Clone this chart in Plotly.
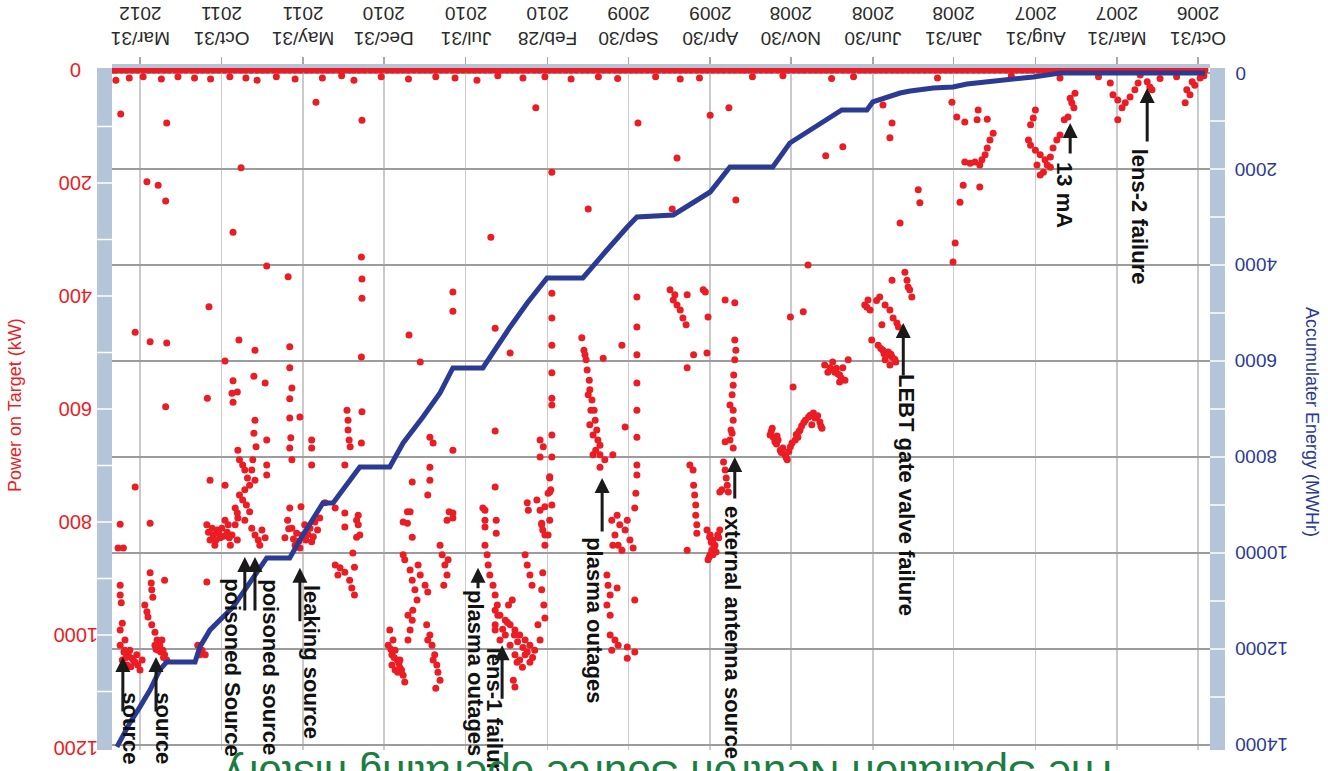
import plotly.graph_objects as go

FONT = "Liberation Sans, Arial, sans-serif"

# ---------------- axis ticks ----------------
tick_dates = ["2006-10-31", "2007-03-31", "2007-08-31", "2008-01-31", "2008-06-30",
              "2008-11-30", "2009-04-30", "2009-09-30", "2010-02-28", "2010-07-31",
              "2010-12-31", "2011-05-31", "2011-10-31", "2012-03-31"]
tick_text = ["Oct/31<br>2006", "Mar/31<br>2007", "Aug/31<br>2007", "Jan/31<br>2008",
             "Jun/30<br>2008", "Nov/30<br>2008", "Apr/30<br>2009", "Sep/30<br>2009",
             "Feb/28<br>2010", "Jul/31<br>2010", "Dec/31<br>2010", "May/31<br>2011",
             "Oct/31<br>2011", "Mar/31<br>2012"]
power_ticks = [0, 200, 400, 600, 800, 1000, 1200]
power_tick_text = ["0", "200", "400", "600", "800", "1000", "1200"]
energy_ticks = [0, 2000, 4000, 6000, 8000, 10000, 12000, 14000]
energy_tick_text = ["0", "2000", "4000", "6000", "8000", "10000", "12000", "14000"]

# ---------------- accumulated energy (MWHr) ----------------
energy_dates = ["2006-10-18", "2007-07-16", "2007-09-04", "2007-11-05", "2008-01-06", "2008-02-01",
                "2008-03-09", "2008-04-21", "2008-05-10", "2008-06-30", "2008-07-11", "2008-08-27",
                "2008-10-01", "2008-12-02", "2009-01-03", "2009-03-24", "2009-04-30", "2009-07-08",
                "2009-09-14", "2009-10-02", "2009-11-09", "2009-12-24", "2010-03-01", "2010-04-07",
                "2010-05-09", "2010-06-10", "2010-06-29", "2010-08-24", "2010-09-17", "2010-10-19",
                "2010-11-25", "2010-12-20", "2011-02-14", "2011-03-18", "2011-04-05", "2011-04-24",
                "2011-05-18", "2011-06-06", "2011-06-25", "2011-08-07", "2011-09-13", "2011-10-09",
                "2011-11-21", "2011-12-10", "2011-12-19", "2012-02-10", "2012-02-23", "2012-03-12",
                "2012-03-31", "2012-04-19", "2012-05-13"]
energy_mwh = [0, 0, 83, 146, 229, 292, 312, 375, 417, 604, 771, 771, 1021, 1458, 1958, 1958,
              2479, 2958, 3000, 3208, 3687, 4270, 4270, 4791, 5291, 5832, 6145, 6145, 6666, 7166,
              7707, 8207, 8207, 8686, 8957, 8957, 9374, 9728, 10103, 10103, 10707, 11123, 11602,
              11956, 12269, 12269, 12435, 12852, 13206, 13540, 14040]

# ---------------- power on target (kW) ----------------
zero_power_dates = [
    "2006-10-18", "2006-10-25", "2006-11-05", "2006-11-15", "2006-11-25", "2006-12-05", "2006-12-15", "2006-12-25",
    "2007-01-05", "2007-01-15", "2007-01-25", "2007-02-05", "2007-02-15", "2007-02-25", "2007-03-05", "2007-03-15",
    "2007-03-25", "2007-04-05", "2007-04-15", "2007-04-25", "2007-05-05", "2007-05-15", "2007-05-25", "2007-06-05",
    "2007-06-15", "2007-06-25", "2007-07-05", "2007-07-15", "2007-07-25", "2007-08-05", "2007-08-15", "2007-08-25",
    "2007-09-05", "2007-09-15", "2007-09-25", "2007-10-05", "2007-10-15", "2007-10-25", "2007-11-05", "2007-11-15",
    "2007-11-25", "2007-12-05", "2007-12-15", "2007-12-25",
    "2008-01-05", "2008-01-15", "2008-01-25", "2008-02-05", "2008-02-15", "2008-02-25", "2008-03-05", "2008-03-15",
    "2008-03-25", "2008-04-05", "2008-04-15", "2008-04-25", "2008-05-05", "2008-05-15", "2008-05-25", "2008-06-05",
    "2008-06-15", "2008-06-25", "2008-07-05", "2008-07-15", "2008-07-25", "2008-08-05", "2008-08-15", "2008-08-25",
    "2008-09-05", "2008-09-15", "2008-09-25", "2008-10-05", "2008-10-15", "2008-10-25", "2008-11-05", "2008-11-15",
    "2008-11-25", "2008-12-05", "2008-12-15", "2008-12-25",
    "2009-01-05", "2009-01-15", "2009-01-25", "2009-02-05", "2009-02-15", "2009-02-25", "2009-03-05", "2009-03-15",
    "2009-03-25", "2009-04-05", "2009-04-15", "2009-04-25", "2009-05-05", "2009-05-15", "2009-05-25", "2009-06-05",
    "2009-06-15", "2009-06-25", "2009-07-05", "2009-07-15", "2009-07-25", "2009-08-05", "2009-08-15", "2009-08-25",
    "2009-09-05", "2009-09-15", "2009-09-25", "2009-10-05", "2009-10-15", "2009-10-25", "2009-11-05", "2009-11-15",
    "2009-11-25", "2009-12-05", "2009-12-15", "2009-12-25",
    "2010-01-05", "2010-01-15", "2010-01-25", "2010-02-05", "2010-02-15", "2010-02-25", "2010-03-05", "2010-03-15",
    "2010-03-25", "2010-04-05", "2010-04-15", "2010-04-25", "2010-05-05", "2010-05-15", "2010-05-25", "2010-06-05",
    "2010-06-15", "2010-06-25", "2010-07-05", "2010-07-15", "2010-07-25", "2010-08-05", "2010-08-15", "2010-08-25",
    "2010-09-05", "2010-09-15", "2010-09-25", "2010-10-05", "2010-10-15", "2010-10-25", "2010-11-05", "2010-11-15",
    "2010-11-25", "2010-12-05", "2010-12-15", "2010-12-25",
    "2011-01-05", "2011-01-15", "2011-01-25", "2011-02-05", "2011-02-15", "2011-02-25", "2011-03-05", "2011-03-15",
    "2011-03-25", "2011-04-05", "2011-04-15", "2011-04-25", "2011-05-05", "2011-05-15", "2011-05-25", "2011-06-05",
    "2011-06-15", "2011-06-25", "2011-07-05", "2011-07-15", "2011-07-25", "2011-08-05", "2011-08-15", "2011-08-25",
    "2011-09-05", "2011-09-15", "2011-09-25", "2011-10-05", "2011-10-15", "2011-10-25", "2011-11-05", "2011-11-15",
    "2011-11-25", "2011-12-05", "2011-12-15", "2011-12-25",
    "2012-01-05", "2012-01-15", "2012-01-25", "2012-02-05", "2012-02-15", "2012-02-25", "2012-03-05", "2012-03-15",
    "2012-03-25", "2012-04-05", "2012-04-15", "2012-04-25", "2012-05-05", "2012-05-15", "2012-05-20"]

power_low = [("2006-10-20", 10), ("2006-12-10", 12), ("2007-01-10", 15), ("2007-05-05", 12), ("2007-10-15", 10),
             ("2008-03-01", 14), ("2008-08-05", 12), ("2008-09-15", 15), ("2008-12-15", 10), ("2009-02-10", 12),
             ("2009-05-20", 14), ("2009-06-25", 16), ("2009-08-10", 12), ("2009-10-20", 15), ("2009-11-25", 12),
             ("2010-01-15", 16), ("2010-03-05", 12), ("2010-04-15", 14), ("2010-06-01", 10), ("2010-07-10", 18),
             ("2010-08-20", 14), ("2010-09-25", 12), ("2010-11-15", 16), ("2011-01-05", 12), ("2011-02-25", 18),
             ("2011-03-20", 10), ("2011-04-25", 14), ("2011-06-15", 16), ("2011-07-20", 12), ("2011-08-25", 18),
             ("2011-09-15", 14), ("2011-10-15", 12), ("2011-11-20", 16), ("2011-12-20", 14), ("2012-01-20", 12),
             ("2012-02-20", 16), ("2012-03-25", 12), ("2012-04-20", 14), ("2012-05-15", 18)]

power_2006_2007 = [
    ("2006-10-27", 14), ("2006-11-06", 27), ("2006-11-11", 21), ("2006-11-15", 44), ("2006-11-21", 35), ("2006-11-24", 58),
    ("2007-01-25", 35), ("2007-01-29", 30), ("2007-02-03", 21), ("2007-02-16", 9), ("2007-02-20", 23), ("2007-02-26", 35),
    ("2007-03-07", 48), ("2007-03-16", 58), ("2007-03-30", 53), ("2007-04-08", 44), ("2007-04-13", 23), ("2007-03-30", 88),
    ("2007-03-22", 67), ("2007-06-18", 41), ("2007-06-24", 58), ("2007-06-20", 67), ("2007-07-01", 83), ("2007-07-08", 88),
    ("2007-06-27", 50), ("2007-07-16", 14), ("2007-07-22", 124), ("2007-07-29", 138), ("2007-08-03", 154), ("2007-08-13", 159),
    ("2007-08-22", 150), ("2007-08-31", 142), ("2007-09-09", 133), ("2007-09-13", 124), ("2007-09-09", 97), ("2007-09-04", 85),
    ("2007-08-31", 71), ("2007-08-03", 172), ("2007-08-16", 181), ("2007-08-22", 186), ("2007-08-09", 168), ("2007-07-16", 115),
    ("2007-08-28", 168)]

power_2008 = [
    ("2008-02-03", 57), ("2008-01-25", 83), ("2008-01-10", 92), ("2007-12-18", 88), ("2007-12-16", 71), ("2007-11-29", 87),
    ("2007-11-18", 112), ("2007-11-24", 124), ("2007-11-29", 138), ("2007-12-03", 150), ("2007-12-09", 159), ("2007-12-22", 163),
    ("2007-12-31", 165), ("2008-01-10", 163), ("2007-12-13", 168), ("2008-01-13", 204), ("2007-12-13", 207), ("2008-01-19", 234),
    ("2008-01-28", 306), ("2008-02-01", 340), ("2008-04-06", 212), ("2008-04-03", 235), ("2008-05-10", 271),
    ("2008-05-01", 358), ("2008-04-27", 372), ("2008-04-22", 389), ("2008-04-18", 402), ("2008-04-25", 384), ("2008-07-15", 416),
    ("2008-07-09", 407), ("2008-07-05", 425), ("2008-06-17", 402), ("2008-06-07", 416), ("2008-05-29", 425), ("2008-05-23", 439),
    ("2008-05-16", 448), ("2008-06-13", 451), ("2008-07-02", 478), ("2008-06-20", 487), ("2008-06-11", 496), ("2008-06-01", 499),
    ("2008-05-25", 508), ("2008-05-18", 517), ("2008-06-07", 513), ("2008-05-29", 522), ("2008-05-25", 372), ("2008-05-29", 120),
    ("2008-05-25", 94), ("2008-06-11", 62), ("2008-08-25", 136), ("2008-09-26", 152), ("2008-10-29", 345),
    ("2008-05-27", 503), ("2008-06-04", 505), ("2008-06-15", 493), ("2008-05-20", 512), ("2008-06-09", 502), ("2008-07-11", 420),
    ("2008-06-23", 408), ("2008-05-13", 455),
    ("2008-09-28", 522), ("2008-09-18", 527), ("2008-09-09", 535), ("2008-08-31", 540), ("2008-08-25", 527), ("2008-08-21", 549),
    ("2008-08-31", 552), ("2008-09-22", 535), ("2008-08-15", 513), ("2008-09-13", 517), ("2008-11-26", 561),
    ("2008-09-03", 538), ("2008-09-15", 530), ("2008-08-28", 545), ("2008-09-06", 528),
    ("2009-01-08", 646), ("2008-12-30", 658), ("2008-12-20", 673), ("2008-12-11", 681), ("2008-12-07", 690), ("2008-12-01", 667),
    ("2008-11-22", 655), ("2008-11-13", 637), ("2008-11-03", 620), ("2008-10-25", 611), ("2008-10-16", 616), ("2008-10-07", 623),
    ("2008-10-03", 634), ("2008-12-24", 655), ("2008-12-15", 669), ("2008-10-22", 628), ("2008-11-17", 650), ("2009-01-04", 634),
    ("2009-01-06", 640), ("2009-01-02", 650), ("2008-12-27", 662), ("2008-12-18", 677), ("2008-12-09", 686), ("2008-12-04", 675),
    ("2008-11-28", 660), ("2008-11-20", 645), ("2008-11-10", 630), ("2008-11-06", 624), ("2008-10-28", 614), ("2008-10-19", 607),
    ("2008-10-11", 612), ("2008-10-05", 630), ("2008-11-15", 640), ("2008-12-26", 648),
    ("2008-12-01", 437), ("2008-11-07", 428)]

power_2009 = [
    ("2009-07-14", 389), ("2009-07-08", 407), ("2009-07-05", 398), ("2009-07-01", 416), ("2009-06-25", 425), ("2009-06-20", 439),
    ("2009-06-14", 451), ("2009-06-12", 398), ("2009-05-13", 389), ("2009-05-09", 393), ("2009-05-04", 437), ("2009-04-02", 407),
    ("2009-03-15", 412), ("2009-05-31", 504), ("2009-05-06", 501), ("2009-06-12", 527),
    ("2009-03-15", 478), ("2009-03-13", 496), ("2009-03-15", 513), ("2009-03-17", 540), ("2009-03-18", 558), ("2009-03-20", 575),
    ("2009-03-18", 602), ("2009-03-18", 620), ("2009-03-22", 637), ("2009-03-24", 655), ("2009-03-18", 669), ("2009-03-24", 593),
    ("2009-03-20", 643), ("2009-04-02", 658), ("2009-04-05", 694), ("2009-04-02", 708), ("2009-03-31", 722), ("2009-03-29", 735),
    ("2009-03-27", 747), ("2009-04-08", 743), ("2009-04-12", 747),
    ("2009-06-07", 699), ("2009-06-01", 708), ("2009-05-31", 735), ("2009-05-29", 752), ("2009-05-27", 770), ("2009-05-27", 788),
    ("2009-05-25", 805), ("2009-05-25", 820), ("2009-06-12", 850),
    ("2009-05-06", 814), ("2009-04-30", 823), ("2009-04-25", 832), ("2009-04-21", 841), ("2009-04-27", 850), ("2009-04-30", 858),
    ("2009-05-04", 867), ("2009-04-16", 823), ("2009-04-12", 814), ("2009-04-19", 853),
    ("2009-05-01", 827), ("2009-04-28", 836), ("2009-04-23", 845), ("2009-04-14", 828), ("2009-05-02", 862), ("2009-04-25", 858),
    ("2009-07-01", 156), ("2009-07-10", 246), ("2009-04-30", 80), ("2009-03-26", 67), ("2009-03-13", 230), ("2009-09-12", 94)]

power_2009_2010 = [
    ("2009-12-26", 474), ("2009-12-22", 496), ("2009-12-18", 513), ("2009-12-16", 531), ("2009-12-12", 549), ("2009-12-11", 566),
    ("2009-12-07", 584), ("2009-12-03", 602), ("2009-12-01", 620), ("2009-11-28", 637), ("2009-11-26", 655), ("2009-11-22", 664),
    ("2009-11-22", 681), ("2009-11-30", 673), ("2009-12-05", 681), ("2009-11-13", 690), ("2009-12-11", 628), ("2009-12-05", 646),
    ("2009-12-20", 504), ("2009-12-14", 575), ("2009-12-09", 602), ("2009-11-22", 703), ("2009-11-16", 510), ("2009-10-12", 487),
    ("2009-10-06", 632), ("2009-10-29", 681),
    ("2009-10-31", 797), ("2009-10-21", 788), ("2009-10-16", 805), ("2009-10-06", 814), ("2009-10-25", 823), ("2009-09-27", 832),
    ("2009-09-21", 846), ("2009-10-19", 841), ("2009-10-12", 850), ("2009-10-29", 841), ("2009-10-02", 797),
    ("2009-11-09", 894), ("2009-11-07", 912), ("2009-11-03", 929), ("2009-11-09", 947), ("2009-11-03", 965), ("2009-10-21", 917),
    ("2009-09-18", 938), ("2009-11-03", 1000), ("2009-10-25", 1009), ("2009-10-31", 1027), ("2009-10-19", 1018),
    ("2009-10-02", 1021), ("2009-09-18", 1030), ("2009-10-02", 1041),
    ("2009-09-14", 402), ("2009-09-14", 455), ("2009-09-14", 504), ("2009-09-14", 554), ("2009-09-14", 602), ("2009-09-14", 650),
    ("2009-09-14", 699), ("2009-09-14", 717), ("2009-09-16", 749), ("2009-09-18", 775),
    ("2009-12-14", 246), ("2010-02-20", 181),
    ("2010-02-20", 395), ("2010-02-20", 439), ("2010-02-20", 487), ("2010-02-20", 536), ("2010-02-20", 581), ("2010-02-20", 593),
    ("2010-02-20", 646), ("2010-02-20", 685), ("2010-02-24", 722), ("2010-02-22", 743), ("2010-02-20", 770), ("2010-02-24", 797),
    ("2010-02-27", 823)]

power_2010 = [
    ("2010-08-24", 393), ("2010-08-24", 427), ("2010-06-14", 296), ("2010-03-22", 67),
    ("2010-10-06", 650), ("2010-09-30", 660), ("2010-10-06", 703), ("2010-10-06", 726), ("2010-10-10", 752), ("2010-11-08", 729),
    ("2010-11-14", 469), ("2010-10-24", 517), ("2010-11-17", 782), ("2010-11-17", 802), ("2010-11-08", 827), ("2010-08-24", 673),
    ("2010-08-24", 784), ("2010-08-24", 793), ("2010-06-06", 457), ("2010-05-09", 501), ("2010-06-06", 639), ("2010-06-06", 738),
    ("2010-06-25", 779), ("2010-06-25", 797), ("2010-06-25", 809), ("2010-06-04", 797), ("2010-06-04", 820), ("2010-04-07", 766),
    ("2010-03-14", 655), ("2010-03-08", 667), ("2010-03-14", 685), ("2010-02-24", 720), ("2010-02-27", 749), ("2010-03-05", 773),
    ("2010-03-11", 802), ("2010-03-09", 814),
    ("2010-12-20", 991), ("2010-12-14", 1009), ("2010-12-10", 1027), ("2010-12-06", 1044), ("2010-12-01", 1058), ("2010-11-25", 1071),
    ("2010-11-22", 1083), ("2010-12-05", 1066), ("2010-12-16", 1035), ("2010-12-23", 1018), ("2010-11-12", 991), ("2010-11-08", 974),
    ("2010-11-16", 1009), ("2010-12-01", 1044), ("2010-12-10", 1062), ("2010-12-16", 1053),
    ("2010-12-12", 1040), ("2010-12-03", 1050), ("2010-11-28", 1062), ("2010-12-18", 1025),
    ("2010-11-22", 867), ("2010-11-12", 885), ("2010-11-08", 903), ("2010-11-03", 920), ("2010-10-30", 938), ("2010-11-07", 956),
    ("2010-11-16", 965), ("2010-10-28", 876), ("2010-10-24", 894), ("2010-11-25", 858), ("2010-10-15", 912), ("2010-10-10", 924),
    ("2010-11-25", 800), ("2010-11-12", 782),
    ("2010-10-12", 982), ("2010-10-06", 1000), ("2010-10-02", 1018), ("2010-09-27", 1035), ("2010-09-23", 1053), ("2010-09-21", 1066),
    ("2010-09-17", 1080), ("2010-09-30", 1044), ("2010-10-10", 1009), ("2010-09-25", 1094),
    ("2010-09-17", 841), ("2010-09-13", 858), ("2010-09-08", 876), ("2010-09-04", 894), ("2010-09-10", 912), ("2010-09-02", 867),
    ("2010-09-04", 797), ("2010-08-31", 782),
    ("2010-06-25", 841), ("2010-06-21", 858), ("2010-06-19", 876), ("2010-06-16", 894), ("2010-06-10", 912), ("2010-06-06", 929),
    ("2010-06-02", 947), ("2010-06-01", 965), ("2010-06-06", 982), ("2010-06-29", 775),
    ("2010-06-06", 956), ("2010-05-28", 965), ("2010-05-18", 974), ("2010-05-09", 982), ("2010-04-30", 991), ("2010-04-21", 1000),
    ("2010-04-11", 1009), ("2010-04-02", 1018), ("2010-03-24", 1027), ("2010-05-18", 1000), ("2010-05-09", 1018), ("2010-04-30", 1035),
    ("2010-04-21", 1044), ("2010-06-06", 991), ("2010-05-28", 1009), ("2010-04-11", 1035), ("2010-04-02", 1048), ("2010-03-14", 1009),
    ("2010-03-18", 982), ("2010-05-12", 947), ("2010-05-05", 938), ("2010-05-03", 1080), ("2010-04-30", 1092),
    ("2010-05-14", 978), ("2010-05-01", 1000), ("2010-04-25", 1012), ("2010-04-15", 1022), ("2010-04-07", 1030), ("2010-03-28", 1040),
    ("2010-05-23", 990), ("2010-04-26", 1048), ("2010-04-16", 1057),
    ("2010-04-11", 858), ("2010-04-07", 876), ("2010-04-02", 894), ("2010-03-29", 912), ("2010-03-09", 890), ("2010-03-11", 805),
    ("2010-03-05", 823), ("2010-03-05", 841), ("2010-04-05", 779), ("2010-03-20", 761), ("2010-03-14", 779), ("2010-02-24", 747),
    ("2010-03-11", 920), ("2010-03-07", 947), ("2010-03-05", 970)]

power_2011_2012 = [
    ("2012-05-06", 78), ("2012-02-10", 94), ("2012-03-18", 198), ("2012-02-26", 204), ("2012-02-12", 232), ("2011-09-24", 173),
    ("2011-10-09", 287), ("2011-08-07", 347), ("2011-06-28", 366), ("2011-05-07", 57), ("2011-02-10", 89), ("2011-02-11", 331),
    ("2011-02-10", 370), ("2011-02-10", 404), ("2011-02-11", 508),
    ("2011-11-23", 419), ("2012-04-09", 464), ("2012-03-12", 481), ("2012-02-10", 483), ("2011-09-28", 478), ("2011-08-29", 496),
    ("2011-06-25", 490), ("2011-10-24", 515), ("2011-08-31", 542), ("2011-08-10", 554), ("2011-10-09", 550), ("2011-10-01", 570),
    ("2011-10-11", 572), ("2011-10-09", 588),
    ("2011-06-25", 527), ("2011-06-21", 563), ("2011-06-25", 582), ("2011-06-25", 616), ("2011-06-23", 651), ("2011-06-25", 669),
    ("2011-06-21", 690), ("2011-06-06", 614), ("2011-11-26", 581), ("2012-02-12", 596),
    ("2011-08-29", 620), ("2011-08-31", 643), ("2011-08-27", 667), ("2011-09-02", 690), ("2011-08-07", 655), ("2011-08-07", 699),
    ("2011-08-07", 717),
    ("2011-09-30", 673), ("2011-09-27", 690), ("2011-09-21", 699), ("2011-09-17", 708), ("2011-09-12", 722), ("2011-09-08", 735),
    ("2011-09-17", 743), ("2011-09-27", 752), ("2011-09-21", 761), ("2011-09-14", 770), ("2011-09-08", 782), ("2011-09-30", 793),
    ("2011-09-17", 797), ("2011-09-04", 708), ("2011-08-29", 726), ("2011-10-05", 775), ("2011-10-01", 784), ("2011-10-24", 735),
    ("2011-11-21", 726), ("2012-04-09", 738), ("2012-05-07", 804), ("2012-03-12", 802),
    ("2011-11-27", 805), ("2011-11-17", 811), ("2011-11-08", 814), ("2011-10-30", 811), ("2011-10-20", 818), ("2011-10-11", 823),
    ("2011-10-01", 832), ("2011-11-21", 832), ("2011-11-12", 841), ("2011-11-02", 828), ("2011-10-14", 841), ("2011-10-05", 805),
    ("2011-10-24", 797), ("2011-11-15", 823), ("2011-10-18", 805),
    ("2011-11-05", 820), ("2011-10-27", 825), ("2011-11-24", 818), ("2011-10-16", 828), ("2011-11-10", 832),
    ("2011-09-04", 811), ("2011-08-29", 823), ("2011-08-23", 832), ("2011-08-16", 814), ("2011-08-10", 828), ("2011-08-20", 841),
    ("2011-06-25", 775), ("2011-06-04", 773),
    ("2011-06-29", 797), ("2011-06-21", 811), ("2011-06-12", 820), ("2011-06-02", 823), ("2011-05-26", 832), ("2011-05-18", 811),
    ("2011-05-09", 800), ("2011-04-30", 793), ("2011-06-15", 841), ("2011-06-06", 846), ("2011-05-15", 835), ("2011-05-04", 814),
    ("2011-07-04", 828), ("2011-05-28", 805),
    ("2011-06-18", 830), ("2011-06-08", 834), ("2011-05-22", 822), ("2011-05-12", 826), ("2011-06-27", 812),
    ("2011-05-15", 655), ("2011-05-15", 669), ("2011-05-15", 699), ("2011-04-20", 766), ("2011-04-01", 775), ("2011-03-14", 699),
    ("2011-03-14", 784), ("2011-03-14", 809), ("2011-03-10", 602), ("2011-03-08", 620), ("2011-03-08", 637), ("2011-03-06", 655),
    ("2011-03-04", 667), ("2011-02-10", 605), ("2011-02-11", 660), ("2011-02-17", 788), ("2011-02-17", 805), ("2011-02-14", 823),
    ("2012-05-07", 1018), ("2012-04-28", 1027), ("2012-04-22", 1035), ("2012-04-15", 1041), ("2012-04-09", 1048), ("2012-04-04", 1053),
    ("2012-03-31", 1062), ("2012-05-03", 1044), ("2012-04-24", 1053), ("2012-04-19", 1027), ("2012-04-06", 1035), ("2012-03-27", 1044),
    ("2012-04-28", 1009), ("2012-05-07", 991), ("2012-05-03", 979), ("2012-05-07", 912), ("2012-05-07", 929), ("2012-05-05", 943),
    ("2012-05-11", 846), ("2012-05-01", 846),
    ("2012-04-26", 1040), ("2012-04-12", 1045), ("2012-04-30", 1030), ("2012-04-17", 1056),
    ("2012-03-12", 890), ("2012-03-10", 908), ("2012-03-09", 920), ("2012-03-07", 933), ("2012-03-22", 947), ("2012-03-18", 959),
    ("2012-03-16", 968), ("2012-02-14", 903),
    ("2012-03-09", 982), ("2012-03-03", 995), ("2012-02-28", 1009), ("2012-02-23", 1018), ("2012-02-17", 1027), ("2012-02-14", 1035),
    ("2012-02-26", 1027), ("2012-02-19", 1009), ("2012-03-03", 1018), ("2012-02-10", 1044),
    ("2012-02-21", 1030), ("2012-03-01", 1025), ("2012-02-16", 1040),
    ("2011-12-14", 1018), ("2011-12-06", 1027), ("2011-11-30", 1035), ("2011-12-10", 1035), ("2011-11-27", 906),
    ("2011-04-01", 876), ("2011-03-23", 881), ("2011-03-14", 889), ("2011-03-27", 894), ("2011-03-05", 903), ("2011-03-01", 917),
    ("2011-02-24", 929), ("2011-02-20", 797), ("2011-02-20", 827), ("2011-02-27", 855), ("2011-02-24", 880)]

# ---------------- event notes ----------------
note_text = ["source", "source", "poisoned Source", "poisoned source", "leaking source", "plasma outages",
             "lens-1 failure", "plasma outages", "external antenna source", "LEBT gate valve failure",
             "13 mA", "lens-2 failure"]
note_x = ["2012-04-17", "2012-02-15", "2011-10-09", "2011-07-30", "2011-05-14", "2010-07-14",
          "2010-06-08", "2009-12-01", "2009-03-18", "2008-04-29", "2007-07-09", "2007-02-18"]
note_kw = [1165, 1165, 1057, 1057, 1048, 1067, 1143, 974, 995, 752, 221, 260]
arrow_x = ["2012-05-02", "2012-03-01", "2011-09-17", "2011-08-29", "2011-06-06", "2010-07-08",
           "2010-05-24", "2009-11-18", "2009-03-15", "2008-05-04", "2007-06-27", "2007-02-03"]
arrow_kw = [1039, 1039, 862, 862, 881, 881, 1018, 722, 685, 448, 94, 32]
arrow_len = [56, 56, 55, 55, 55, 22, 55, 55, 43, 54, 32, 55]

# ---------------- build figure ----------------
pts = power_low + power_2006_2007 + power_2008 + power_2009 + power_2009_2010 + power_2010 + power_2011_2012
red_x = zero_power_dates + [d for d, _ in pts]
red_y = [0] * len(zero_power_dates) + [v for _, v in pts]

RED = "#ec1c24"
NAVY = "#2b3a92"
W, H = 1328, 771
L_M, R_M, T_M, B_M = 112, 118, 68, 21
PW, PH = W - L_M - R_M, H - T_M - B_M

fig = go.Figure()
fig.add_trace(go.Scatter(x=red_x, y=red_y, mode="markers", yaxis="y",
                         marker=dict(color=RED, size=7, line=dict(width=0)), hoverinfo="skip"))
fig.add_trace(go.Scatter(x=energy_dates, y=energy_mwh, mode="lines", yaxis="y2",
                         line=dict(color=NAVY, width=5), hoverinfo="skip"))

# side bands
STRIP = "#b4c5da"
shapes = [
    dict(type="rect", xref="paper", yref="paper", x0=-15 / PW, x1=0, y0=0, y1=1,
         fillcolor=STRIP, line=dict(width=0), layer="below"),
    dict(type="rect", xref="paper", yref="paper", x0=1, x1=1 + 15 / PW, y0=0, y1=1,
         fillcolor=STRIP, line=dict(width=0), layer="below"),
]
for v in range(100, 1200, 100):
    shapes.append(dict(type="line", xref="paper", yref="y", x0=-15 / PW, x1=0, y0=v, y1=v,
                       line=dict(color="white", width=1.5)))
for v in range(1000, 14000, 1000):
    shapes.append(dict(type="line", xref="paper", yref="y2", x0=1, x1=1 + 15 / PW, y0=v, y1=v,
                       line=dict(color="white", width=1.5)))

annotations = []
# tick labels (upside down, as in the picture)
for d, t in zip(tick_dates, tick_text):
    annotations.append(dict(x=d, xref="x", y=1 + (T_M - 26) / PH, yref="paper", text=t, showarrow=False,
                            textangle=180, xanchor="center", yanchor="middle",
                            font=dict(family=FONT, size=19, color="#2a2a2a")))
for v, t in zip(power_ticks, power_tick_text):
    annotations.append(dict(x=(76 - L_M) / PW, xref="paper", y=v, yref="y", text=t, showarrow=False,
                            textangle=180, xanchor="center", yanchor="middle",
                            font=dict(family=FONT, size=20, color=RED)))
for v, t in zip(energy_ticks, energy_tick_text):
    annotations.append(dict(x=(1233 - L_M) / PW, xref="paper", y=v, yref="y2", text=t, showarrow=False,
                            textangle=180, xanchor="left", yanchor="middle",
                            font=dict(family=FONT, size=19, color=NAVY)))

for t, x, y in zip(note_text, note_x, note_kw):
    annotations.append(dict(x=x, y=y, xref="x", yref="y", text="<b>" + t + "</b>", showarrow=False,
                            textangle=90, xanchor="center", yanchor="middle",
                            font=dict(family=FONT, size=22, color="#111111")))
for x, y, L in zip(arrow_x, arrow_kw, arrow_len):
    annotations.append(dict(x=x, y=y, xref="x", yref="y", text="", showarrow=True, ax=0, ay=L,
                            arrowhead=2, arrowsize=1, arrowwidth=3, arrowcolor="#1a1a1a", standoff=0))

# axis titles
annotations.append(dict(x=(15 - L_M) / PW, y=(H - B_M - 405) / PH, xref="paper", yref="paper",
                        text="Power on Target (kW)", showarrow=False, textangle=-90,
                        xanchor="center", yanchor="middle",
                        font=dict(family=FONT, size=18, color=RED)))
annotations.append(dict(x=(1312 - L_M) / PW, y=(H - B_M - 422) / PH, xref="paper", yref="paper",
                        text="Accumulater Energy (MWHr)", showarrow=False, textangle=90,
                        xanchor="center", yanchor="middle",
                        font=dict(family=FONT, size=18, color=NAVY)))
# cut-off slide title at the bottom (upside down)
annotations.append(dict(x=(672 - L_M) / PW, y=(H - B_M - 776) / PH, xref="paper", yref="paper",
                        text="The Spallation Neutron Source operating history", showarrow=False,
                        textangle=180, xanchor="center", yanchor="middle",
                        font=dict(family=FONT, size=42, color="#1b7d3f")))

fig.update_layout(
    width=W, height=H,
    margin=dict(l=L_M, r=R_M, t=T_M, b=B_M, autoexpand=False),
    plot_bgcolor="white", paper_bgcolor="white",
    showlegend=False,
    shapes=shapes,
    annotations=annotations,
    xaxis=dict(type="date", range=["2012-05-22 07:00", "2006-10-08 14:00"], side="top",
               tickmode="array", tickvals=tick_dates, showticklabels=False,
               showgrid=True, gridcolor="#cacaca", gridwidth=1.5,
               showline=True, linecolor=STRIP, linewidth=4, automargin=False,
               ticks="outside", ticklen=7, tickcolor="#a8a8a8", tickwidth=1.5, zeroline=False),
    yaxis=dict(range=[1203.5, -3.5], tickmode="array", tickvals=power_ticks, showticklabels=False,
               automargin=False, showgrid=False, zeroline=False, ticks="", showline=False),
    yaxis2=dict(overlaying="y", side="right", range=[14104, -104], tickmode="array",
                tickvals=energy_ticks, showticklabels=False, automargin=False,
                showgrid=True, gridcolor="#9c9c9c", gridwidth=2, zeroline=False,
                ticks="", showline=False),
)

fig.write_html("out.html",
               config={"displayModeBar": False, "staticPlot": True},
               post_script="document.body.style.margin='0px';document.body.style.padding='0px';"
                           "document.body.style.overflow='hidden';")
